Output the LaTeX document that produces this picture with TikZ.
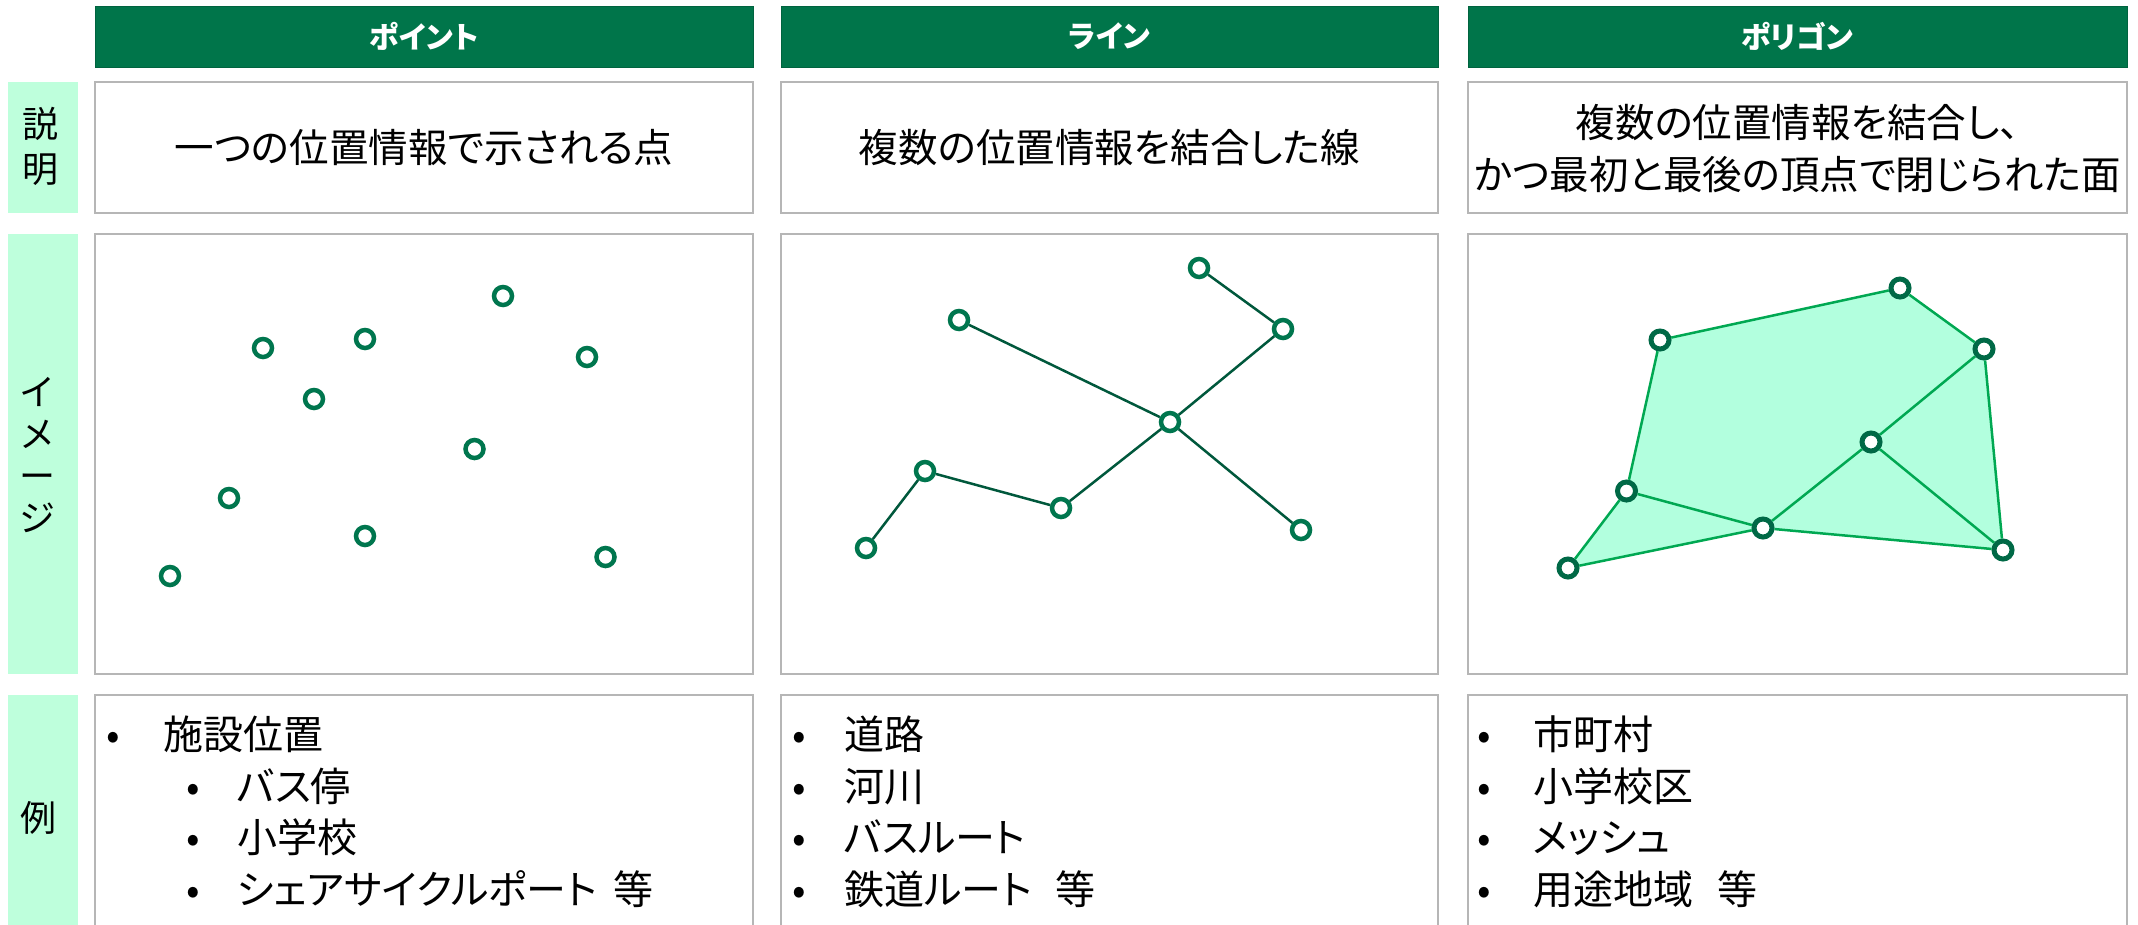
\documentclass[tikz,border=0pt]{standalone}
\usepackage{fontspec}
\setmainfont[RawFeature=+palt]{Noto Sans CJK JP}
\definecolor{hdr}{RGB}{0,117,74}
\definecolor{mint}{RGB}{190,255,220}
\definecolor{frame}{RGB}{182,182,182}
\definecolor{ptgreen}{RGB}{0,118,78}
\definecolor{pgpin}{RGB}{0,105,70}
\definecolor{lngreen}{RGB}{0,88,60}
\definecolor{polyline}{RGB}{0,168,82}
\definecolor{polyfill}{RGB}{178,255,222}
\tikzset{
  hdrbox/.style={fill=hdr, draw=hdr!85!black, line width=1pt, minimum height=61pt, text=white, font=\fontsize{30}{34}\selectfont\bfseries, inner sep=0pt},
  cellbox/.style={draw=frame, line width=2pt, fill=white, inner sep=0pt},
  lblbox/.style={fill=mint, inner sep=0pt, minimum width=70pt},
  desctext/.style={font=\fontsize{39.5}{52}\selectfont, align=center, inner sep=0pt},
  lbltext/.style={font=\fontsize{36}{45}\selectfont, align=center, inner sep=0pt},
  vlbltext/.style={font=\fontsize{36}{42}\selectfont, align=center, inner sep=0pt},
  extext/.style={font=\fontsize{40}{48}\selectfont, anchor=base west, inner sep=0pt},
  bul/.style={font=\fontsize{40}{48}\selectfont, anchor=base, inner sep=0pt},
  pin/.style={circle, draw=ptgreen, fill=white, line width=4.5pt, minimum size=18pt, inner sep=0pt},
  pgpinstyle/.style={pin, draw=pgpin, line width=5pt},
  lnedge/.style={draw=lngreen, line width=2.5pt},
  pgedge/.style={draw=polyline, line width=2.5pt},
}
\begin{document}
\begin{tikzpicture}[x=1pt,y=-1pt]
\useasboundingbox (0,0) rectangle (2138,924);
\clip (0,0) rectangle (2138,924);

% headers
\node[hdrbox, minimum width=658pt] (h1) at (424,36.5) {ポイント};
\node[hdrbox, minimum width=657pt] (h2) at (1109.5,36.5) {ライン};
\node[hdrbox, minimum width=659pt] (h3) at (1797.5,36.5) {ポリゴン};

% row labels
\node[lblbox, minimum height=131pt] (l1) at (43,147.5) {};
\node[lblbox, minimum height=440pt] (l2) at (43,454) {};
\node[lblbox, minimum height=260pt] (l3) at (43,825) {};
\node[lbltext] (l1t) at (40,146) {説\\明};
\node[vlbltext] (l2t) at (37,455) {イ\\メ\\ー\\ジ};
\node[lbltext] (l3t) at (38,818) {例};

% description row
\node[cellbox, minimum width=658pt, minimum height=131pt] (d1) at (424,147.5) {};
\node[cellbox, minimum width=657pt, minimum height=131pt] (d2) at (1109.5,147.5) {};
\node[cellbox, minimum width=659pt, minimum height=131pt] (d3) at (1797.5,147.5) {};
\node[desctext] (d1t) at (424,148) {一つの位置情報で示される点};
\node[desctext] (d2t) at (1109.5,148) {複数の位置情報を結合した線};
\node[desctext] (d3t) at (1797.5,149) {複数の位置情報を結合し、\\かつ最初と最後の頂点で閉じられた面};

% image row
\node[cellbox, minimum width=658pt, minimum height=440pt] (i1) at (424,454) {};
\node[cellbox, minimum width=657pt, minimum height=440pt] (i2) at (1109.5,454) {};
\node[cellbox, minimum width=659pt, minimum height=440pt] (i3) at (1797.5,454) {};

% example row
\node[cellbox, minimum width=658pt, minimum height=260pt] (e1) at (424,825) {};
\node[cellbox, minimum width=657pt, minimum height=260pt] (e2) at (1109.5,825) {};
\node[cellbox, minimum width=659pt, minimum height=260pt] (e3) at (1797.5,825) {};

% points
\node[pin] (a1) at (503,296) {};
\node[pin] (a2) at (263,348) {};
\node[pin] (a3) at (365,339) {};
\node[pin] (a4) at (587,357) {};
\node[pin] (a5) at (314,399) {};
\node[pin] (a6) at (474.5,449) {};
\node[pin] (a7) at (229,498) {};
\node[pin] (a8) at (365,536) {};
\node[pin] (a9) at (605.5,557) {};
\node[pin] (a10) at (170,576) {};

% lines
\node[pin] (b1) at (1199,268) {};
\node[pin] (b2) at (1283,329) {};
\node[pin] (b3) at (959,320) {};
\node[pin] (b4) at (1170,422) {};
\node[pin] (b5) at (925,471) {};
\node[pin] (b6) at (1061,508) {};
\node[pin] (b7) at (1301,530) {};
\node[pin] (b8) at (866,548) {};
\draw[lnedge] (b1) -- (b2);
\draw[lnedge] (b2) -- (b4);
\draw[lnedge] (b3) -- (b4);
\draw[lnedge] (b4) -- (b6);
\draw[lnedge] (b4) -- (b7);
\draw[lnedge] (b6) -- (b5);
\draw[lnedge] (b5) -- (b8);

% polygon
\coordinate (q1) at (1900,288);
\coordinate (q2) at (1660,340);
\coordinate (q3) at (1984,349);
\coordinate (q4) at (1871,442);
\coordinate (q5) at (1626.5,491);
\coordinate (q6) at (1763,528);
\coordinate (q7) at (2003,550);
\coordinate (q8) at (1568,568);
\fill[polyfill] (q8) -- (q5) -- (q2) -- (q1) -- (q3) -- (q7) -- (q6) -- cycle;
\foreach \i in {1,...,8} { \node[pgpinstyle] (c\i) at (q\i) {}; }
\draw[pgedge] (c8) -- (c5);
\draw[pgedge] (c5) -- (c2);
\draw[pgedge] (c2) -- (c1);
\draw[pgedge] (c1) -- (c3);
\draw[pgedge] (c3) -- (c7);
\draw[pgedge] (c7) -- (c6);
\draw[pgedge] (c6) -- (c8);
\draw[pgedge] (c5) -- (c6);
\draw[pgedge] (c6) -- (c4);
\draw[pgedge] (c4) -- (c3);
\draw[pgedge] (c4) -- (c7);

% examples col1
\node[bul] (u11) at (113,749) {•};
\node[extext] (x11) at (163,749) {施設位置};
\node[bul] (u12) at (193,801) {•};
\node[extext] (x12) at (237,801) {バス停};
\node[bul] (u13) at (193,852) {•};
\node[extext] (x13) at (237,852) {小学校};
\node[bul] (u14) at (193,904) {•};
\node[extext] (x14) at (237,904) {シェアサイクルポート\hspace{0.4em}等};

% examples col2
\node[bul] (u21) at (799,749) {•};
\node[extext] (x21) at (844,749) {道路};
\node[bul] (u22) at (799,801) {•};
\node[extext] (x22) at (844,801) {河川};
\node[bul] (u23) at (799,852) {•};
\node[extext] (x23) at (844,852) {バスルート};
\node[bul] (u24) at (799,904) {•};
\node[extext] (x24) at (844,904) {鉄道ルート\hspace{0.6em}等};

% examples col3
\node[bul] (u31) at (1484,749) {•};
\node[extext] (x31) at (1533,749) {市町村};
\node[bul] (u32) at (1484,801) {•};
\node[extext] (x32) at (1533,801) {小学校区};
\node[bul] (u33) at (1484,852) {•};
\node[extext] (x33) at (1533,852) {メッシュ};
\node[bul] (u34) at (1484,904) {•};
\node[extext] (x34) at (1533,904) {用途地域\hspace{0.6em}等};
\end{tikzpicture}
\end{document}
